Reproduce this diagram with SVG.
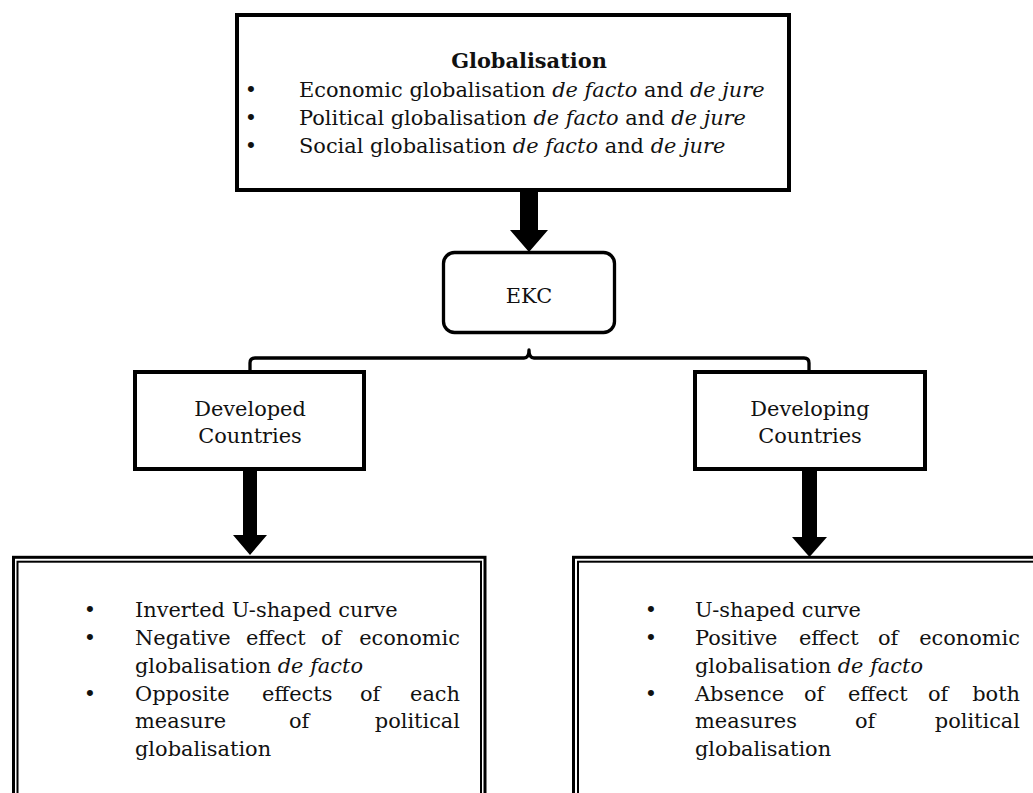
<svg xmlns="http://www.w3.org/2000/svg" width="1033" height="793" viewBox="0 0 1033 793">
<style>
text{font-family:"DejaVu Serif","Liberation Serif",serif;font-size:20.9px;fill:#111}
.b{font-weight:bold}
.i{font-style:italic}
.m{text-anchor:middle}
.e{text-anchor:end}
.box{fill:#fff;stroke:#000;stroke-width:4}
.conn{fill:none;stroke:#000;stroke-width:3.3;stroke-linejoin:round}
.dbl1{fill:#fff;stroke:#000;stroke-width:3}
.dbl2{fill:none;stroke:#000;stroke-width:2}
</style>
<rect width="1033" height="793" fill="#fff"/>
<g id="connectors">
<polygon points="520,190 538,190 538,230 548,230 529,252 510,230 520,230" fill="#000"/>
<path class="conn" d="M250,372 V363 Q250,358 255,358 H524 Q529,358 529,350 Q529,358 534,358 H804 Q809,358 809,363 V372"/>
<polygon points="243,469 257,469 257,535 267,535 250,555 233,535 243,535" fill="#000"/>
<polygon points="802,469 817,469 817,537 827,537 809.5,557 792,537 802,537" fill="#000"/>
</g>
<g id="globalisation">
<rect class="box" x="237" y="15" width="552" height="175"/>
<text class="b m" x="529" y="68">Globalisation</text>
<text class="m" x="251" y="97">•</text>
<text x="299" y="97">Economic globalisation <tspan class="i">de facto</tspan> and <tspan class="i">de jure</tspan></text>
<text class="m" x="251" y="125">•</text>
<text x="299" y="125">Political globalisation <tspan class="i">de facto</tspan> and <tspan class="i">de jure</tspan></text>
<text class="m" x="251" y="153">•</text>
<text x="299" y="153">Social globalisation <tspan class="i">de facto</tspan> and <tspan class="i">de jure</tspan></text>
</g>
<g id="ekc">
<rect x="443.5" y="252.5" width="171" height="80" rx="11" fill="#fff" stroke="#000" stroke-width="3.3"/>
<text class="m" x="529" y="303">EKC</text>
</g>
<g id="developed">
<rect class="box" x="135" y="372" width="229" height="97"/>
<text class="m" x="250" y="416">Developed</text>
<text class="m" x="250" y="443">Countries</text>
</g>
<g id="developing">
<rect class="box" x="695" y="372" width="230" height="97"/>
<text class="m" x="810" y="416">Developing</text>
<text class="m" x="810" y="443">Countries</text>
</g>
<g id="developed-results">
<rect class="dbl1" x="13.5" y="557.3" width="471.5" height="260"/>
<rect class="dbl2" x="17.5" y="561.7" width="463.5" height="260"/>
<text class="m" x="90" y="617">•</text>
<text x="135" y="617">Inverted U-shaped curve</text>
<text class="m" x="90" y="645">•</text>
<text x="135" y="645">Negative</text><text x="246" y="645">effect</text><text x="321" y="645">of</text><text class="e" x="460" y="645">economic</text>
<text x="135" y="673">globalisation <tspan class="i">de facto</tspan></text>
<text class="m" x="90" y="701">•</text>
<text x="135" y="701">Opposite</text><text x="262" y="701">effects</text><text x="360" y="701">of</text><text class="e" x="460" y="701">each</text>
<text x="135" y="728">measure</text><text x="289" y="728">of</text><text class="e" x="460" y="728">political</text>
<text x="135" y="756">globalisation</text>
</g>
<g id="developing-results">
<rect class="dbl1" x="573.5" y="557.3" width="500" height="260"/>
<rect class="dbl2" x="578" y="561.7" width="500" height="260"/>
<text class="m" x="651" y="617">•</text>
<text x="695" y="617">U-shaped curve</text>
<text class="m" x="651" y="645">•</text>
<text x="695" y="645">Positive</text><text x="799" y="645">effect</text><text x="878" y="645">of</text><text class="e" x="1020" y="645">economic</text>
<text x="695" y="673">globalisation <tspan class="i">de facto</tspan></text>
<text class="m" x="651" y="701">•</text>
<text x="695" y="701">Absence</text><text x="804" y="701">of</text><text x="848" y="701">effect</text><text x="928" y="701">of</text><text class="e" x="1020" y="701">both</text>
<text x="695" y="728">measures</text><text x="855" y="728">of</text><text class="e" x="1020" y="728">political</text>
<text x="695" y="756">globalisation</text>
</g>
</svg>
